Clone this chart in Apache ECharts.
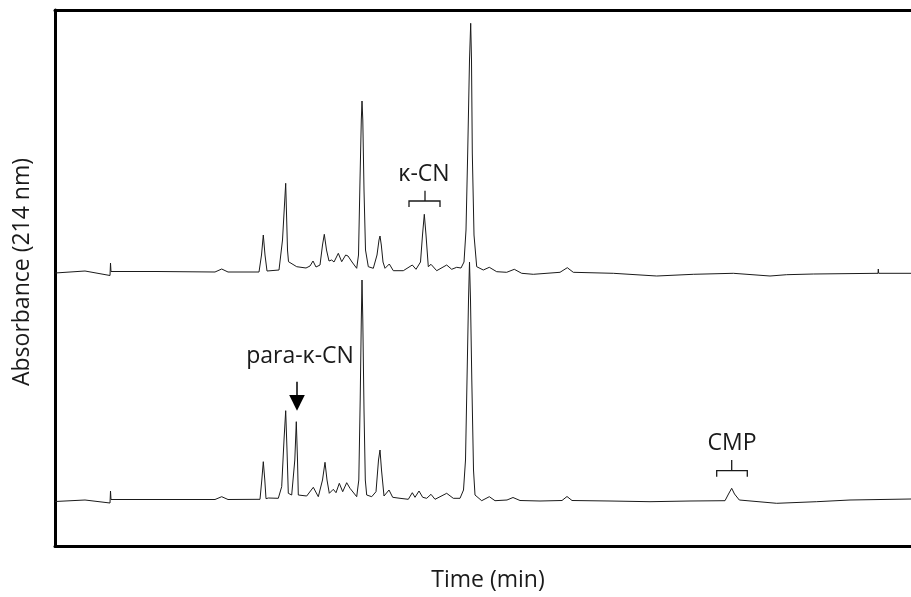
<!DOCTYPE html>
<html>
<head>
<meta charset="utf-8">
<script src="https://cdn.jsdelivr.net/npm/echarts@6/dist/echarts.min.js"></script>
<style>html,body{margin:0;padding:0;background:#fff}#c{width:911px;height:597px}</style>
</head>
<body>
<div id="c"></div>
<script>
// Time (arbitrary min units) and absorbance (arbitrary units)
var traceTop = [
[0,27.3],[3.0,27.5],[5.5,27.05],[5.55,28.3],[5.6,27.45],[9.8,27.45],[10.0,27.65],[10.2,27.45],
[16.0,27.4],[16.67,27.7],[17.3,27.4],[20.4,27.4],[20.65,29.1],[20.83,31.1],[21.0,29.1],[21.2,27.5],
[22.4,27.6],[22.75,30.6],[23.07,36.27],[23.25,29.6],[23.35,28.43],[24.17,27.93],[25.1,27.8],
[25.5,28.0],[25.8,28.5],[26.1,27.9],[26.5,28.1],[26.75,30.1],[26.93,31.17],[27.15,29.6],[27.4,28.5],
[27.67,28.6],[27.9,28.4],[28.33,29.27],[28.67,28.43],[29.07,29.1],[29.3,29.0],[29.7,28.4],[30.17,27.77],
[30.35,29.1],[30.5,36.6],[30.63,42.6],[30.7,44.5],[30.78,42.6],[30.9,35.6],[31.05,29.6],[31.33,27.93],
[31.83,27.77],[32.2,29.1],[32.4,30.6],[32.5,31.0],[32.63,30.1],[32.8,28.4],[33.0,27.77],[33.43,28.2],
[33.83,27.53],[34.83,27.53],[35.73,28.1],[36.1,27.67],[36.55,28.4],[36.75,31.1],[36.93,33.17],[37.1,31.1],
[37.33,27.93],[37.6,28.17],[38.17,27.53],[39.17,28.1],[39.67,27.67],[40.17,27.87],[40.6,27.8],
[40.9,28.4],[41.1,31.6],[41.27,39.3],[41.45,48.6],[41.57,52.27],[41.65,48.6],[41.73,39.3],[41.9,31.1],
[42.17,27.93],[42.83,27.6],[43.43,27.87],[44.17,27.43],[45.17,27.37],[45.93,27.67],[46.67,27.27],
[47.83,27.17],[50.5,27.37],[51.23,27.83],[51.83,27.37],[55.83,27.27],[60.17,27.0],[63.83,27.17],
[67.83,27.27],[71.5,27.0],[73.17,27.13],[75.83,27.2],[82.3,27.27],[82.33,27.7],[82.37,27.27],[85.6,27.27]
];
var traceBottom = [
[0,4.45],[3.0,4.6],[5.5,4.3],[5.55,5.5],[5.6,4.65],[9.8,4.65],[10.0,4.85],[10.2,4.65],[16.0,4.65],
[16.67,4.93],[17.3,4.65],[20.5,4.67],[20.68,6.6],[20.83,8.43],[20.98,6.6],[21.1,4.73],[21.33,4.8],
[22.33,4.77],[22.67,5.93],[22.9,10.6],[23.07,13.53],[23.2,9.6],[23.33,5.27],[23.67,5.1],
[23.98,8.6],[24.13,12.43],[24.25,8.6],[24.33,5.1],[25.17,5.0],[25.83,5.87],[26.33,4.93],[26.75,6.6],
[27.0,8.37],[27.2,6.6],[27.43,5.27],[27.83,5.67],[28.1,5.33],[28.43,6.27],[28.77,5.43],[29.17,6.33],
[29.5,5.77],[30.17,4.93],[30.38,6.6],[30.52,14.6],[30.63,22.6],[30.7,26.6],[30.78,22.6],[30.9,13.6],
[31.03,6.6],[31.17,5.1],[31.67,4.93],[32.1,5.43],[32.35,8.6],[32.5,9.6],[32.65,7.6],[32.9,5.0],
[33.4,5.6],[33.77,4.87],[34.5,4.77],[35.33,4.67],[35.73,5.33],[36.0,4.87],[36.4,5.5],[36.77,4.87],
[37.17,4.77],[37.6,5.17],[38.0,4.67],[39.17,5.27],[39.83,4.77],[40.5,4.77],[40.85,5.6],[41.05,8.6],
[41.2,16.6],[41.35,24.6],[41.45,28.4],[41.55,24.6],[41.68,16.6],[41.85,7.6],[42.0,5.1],[42.67,4.53],
[43.43,4.93],[44.0,4.53],[45.2,4.6],[45.8,4.85],[46.5,4.55],[48.5,4.5],[50.7,4.55],[51.2,4.95],
[51.7,4.55],[55.5,4.5],[59.5,4.43],[63.5,4.5],[67.0,4.53],[67.35,5.2],[67.67,5.77],[67.95,5.2],
[68.43,4.6],[72.17,4.27],[76.17,4.43],[79.5,4.6],[85.6,4.7]
];
var xRange = [0, 85.6];
var yRange = [0, 53.6];
var axisTitles = { x: 'Time (min)', y: 'Absorbance (214 nm)' };
var labels = { kcn: 'κ-CN', para: 'para-κ-CN', cmp: 'CMP' };

var FONT = '"Open Sans", sans-serif';
var INK = '#1a1a1a';
var chart = echarts.init(document.getElementById('c'), null, { renderer: 'canvas' });
var hiddenAxisBits = { axisTick: { show: false }, axisLabel: { show: false }, splitLine: { show: false } };
var frameLine = { show: true, lineStyle: { color: '#000', width: 3 } };
chart.setOption({
  animation: false,
  backgroundColor: '#fff',
  grid: { left: 55, right: 0, top: 10, bottom: 51, containLabel: false },
  xAxis: [
    Object.assign({ type: 'value', min: xRange[0], max: xRange[1], position: 'bottom', axisLine: frameLine }, hiddenAxisBits),
    Object.assign({ type: 'value', min: xRange[0], max: xRange[1], position: 'top', axisLine: frameLine }, hiddenAxisBits)
  ],
  yAxis: [
    Object.assign({ type: 'value', min: yRange[0], max: yRange[1], position: 'left', axisLine: frameLine }, hiddenAxisBits)
  ],
  series: [
    { type: 'line', data: traceTop, showSymbol: false, symbol: 'none', lineStyle: { color: INK, width: 1 }, z: 3 },
    { type: 'line', data: traceBottom, showSymbol: false, symbol: 'none', lineStyle: { color: INK, width: 1 }, z: 3 }
  ]
});

function P(x, y) { return chart.convertToPixel({ xAxisIndex: 0, yAxisIndex: 0 }, [x, y]); }
function bracket(x1, x2, xc, y, yEnd, yTick) {
  var a = P(x1, yEnd), b = P(x1, y), c = P(x2, y), d = P(x2, yEnd), t1 = P(xc, y), t2 = P(xc, yTick);
  return [
    { type: 'polyline', shape: { points: [a, b, c, d] }, style: { stroke: INK, lineWidth: 1.3, fill: null }, z: 10 },
    { type: 'line', shape: { x1: t1[0], y1: t1[1], x2: t2[0], y2: t2[1] }, style: { stroke: INK, lineWidth: 1.3 }, z: 10 }
  ];
}
function label(text, x, y) {
  var p = P(x, y);
  return { type: 'text', x: p[0], y: p[1], style: { text: text, font: '23px ' + FONT, fill: INK, align: 'center', verticalAlign: 'middle' }, z: 10 };
}
var g = [];
g.push(label(labels.kcn, 36.9, 37.2));
g = g.concat(bracket(35.4, 38.5, 37.0, 34.5, 33.9, 35.53));
g.push(label(labels.para, 24.5, 19.0));
var aTop = P(24.2, 16.43), aBase = P(24.2, 15.1), aTip = P(24.2, 13.53), aL = P(23.42, 15.1), aR = P(24.98, 15.1);
g.push({ type: 'line', shape: { x1: aTop[0], y1: aTop[1], x2: aBase[0], y2: aBase[1] }, style: { stroke: '#000', lineWidth: 1.5 }, z: 10 });
g.push({ type: 'polygon', shape: { points: [aL, aR, aTip] }, style: { fill: '#000' }, z: 10 });
g.push(label(labels.cmp, 67.7, 10.3));
g = g.concat(bracket(66.17, 69.23, 67.67, 7.53, 6.93, 8.6));
g.push({ type: 'text', x: 488, y: 580, style: { text: axisTitles.x, font: '23px ' + FONT, fill: INK, align: 'center', verticalAlign: 'middle' } });
g.push({ type: 'text', x: 22, y: 272, rotation: Math.PI / 2, style: { text: axisTitles.y, font: '23px ' + FONT, fill: INK, align: 'center', verticalAlign: 'middle' } });
chart.setOption({ graphic: { elements: g } });
</script>
</body>
</html>
